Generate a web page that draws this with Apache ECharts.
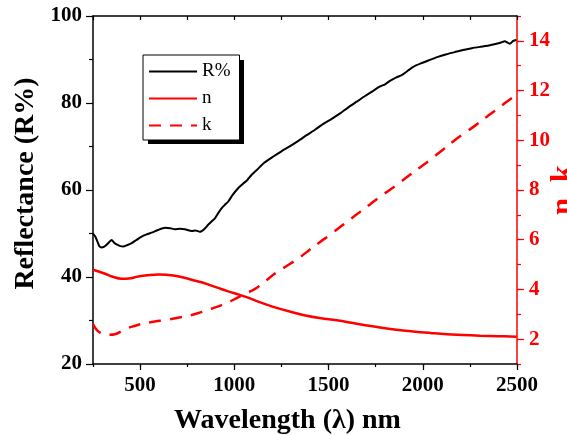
<!DOCTYPE html>
<html>
<head>
<meta charset="utf-8">
<title>Reflectance and optical constants</title>
<script src="https://cdn.jsdelivr.net/npm/echarts@6/dist/echarts.min.js"></script>
<style>
  html, body { margin: 0; padding: 0; background: #fff; }
  #chart { width: 567px; height: 435px; }
</style>
</head>
<body>
<div id="chart"></div>
<script>
// Reflectance spectrum R% (left axis)
const rWavelength = [250, 262, 272, 285, 295, 310, 322, 335, 349, 362, 375, 395, 410, 430, 455, 480, 508, 535, 561, 595,
  632, 660, 685, 710, 738, 760, 773, 795, 817, 840, 861, 880, 897, 915, 932, 950, 967, 990, 1020, 1045,
  1069, 1090, 1119, 1160, 1207, 1250, 1296, 1340, 1384, 1430, 1472, 1515, 1561, 1605, 1649, 1690, 1737, 1773, 1800, 1826,
  1860, 1888, 1920, 1949, 1990, 2038, 2080, 2126, 2170, 2214, 2260, 2303, 2350, 2391, 2415, 2435, 2450, 2462, 2480, 2497];
const rValues = [50.0, 49.3, 48.3, 47.0, 46.8, 47.0, 47.4, 48.0, 48.5, 47.9, 47.5, 47.1, 47.0, 47.3, 47.8, 48.5, 49.3, 49.8, 50.2, 50.8,
  51.3, 51.2, 51.0, 51.1, 51.0, 50.7, 50.6, 50.7, 50.4, 51.0, 52.0, 52.8, 53.5, 54.7, 55.8, 56.6, 57.3, 58.8, 60.4, 61.4,
  62.3, 63.4, 64.6, 66.3, 67.7, 68.9, 70.1, 71.3, 72.6, 73.9, 75.2, 76.3, 77.6, 79.0, 80.3, 81.5, 82.8, 83.8, 84.3, 85.1,
  85.9, 86.4, 87.4, 88.3, 89.1, 89.9, 90.6, 91.2, 91.7, 92.2, 92.6, 92.9, 93.2, 93.6, 93.9, 94.2, 93.9, 93.6, 94.3, 94.5];

// Refractive index n (right axis)
const nWavelength = [250, 280, 314, 350, 402, 440, 490, 540, 596, 640, 685, 730, 773, 820, 861, 910, 967, 1020, 1069, 1130,
  1207, 1290, 1384, 1460, 1543, 1650, 1773, 1860, 1949, 2040, 2126, 2210, 2303, 2400, 2497];
const nValues = [4.79, 4.72, 4.63, 4.52, 4.43, 4.44, 4.52, 4.57, 4.60, 4.59, 4.55, 4.48, 4.39, 4.30, 4.20, 4.07, 3.92, 3.80, 3.68, 3.50,
  3.30, 3.12, 2.94, 2.84, 2.76, 2.62, 2.47, 2.38, 2.31, 2.25, 2.20, 2.17, 2.14, 2.12, 2.10];

// Extinction coefficient k (right axis)
const kWavelength = [250, 265, 278, 305, 335, 367, 420, 470, 508, 570, 632, 700, 755, 810, 861, 915, 967, 1010, 1056, 1110,
  1165, 1225, 1290, 1349, 1400, 1455, 1510, 1561, 1615, 1667, 1720, 1773, 1826, 1880, 1932, 1985, 2038, 2100, 2161, 2220,
  2285, 2340, 2391, 2440, 2490];
const kValues = [2.61, 2.42, 2.31, 2.20, 2.18, 2.20, 2.40, 2.53, 2.61, 2.70, 2.77, 2.86, 2.94, 3.05, 3.18, 3.32, 3.48, 3.64, 3.82, 4.02,
  4.34, 4.69, 5.00, 5.30, 5.60, 5.91, 6.21, 6.51, 6.82, 7.12, 7.42, 7.73, 8.01, 8.31, 8.61, 8.91, 9.21, 9.58, 9.95, 10.28,
  10.63, 10.95, 11.23, 11.52, 11.80];

// Tick labels
const wavelengthTicks = [500, 1000, 1500, 2000, 2500];
const nkTicks = [2, 4, 6, 8, 10, 12, 14];

const zip = (xs, ys) => xs.map((x, i) => [x, ys[i]]);
const plain = (v) => String(v);

const FONT = '"Liberation Serif", "Times New Roman", serif';
const RED = '#ff0000';
const BLACK = '#000000';

const tickFont = { fontFamily: FONT, fontWeight: 'bold', fontSize: 21 };

const chart = echarts.init(document.getElementById('chart'), null, { renderer: 'canvas' });

chart.setOption({
  animation: false,
  backgroundColor: '#fff',
  grid: { left: 93, right: 50, top: 16, bottom: 71, containLabel: false, outerBoundsMode: 'none' },
  // solid drop shadow behind the legend box
  graphic: [{
    type: 'rect', z: 1, silent: true,
    shape: { x: 148, y: 60, width: 96, height: 84 },
    style: { fill: BLACK }
  }],
  legend: {
    orient: 'vertical',
    left: 143,
    top: 55,
    z: 5,
    padding: [7, 9, 5, 5],
    itemWidth: 48,
    itemHeight: 14,
    itemGap: 8,
    backgroundColor: '#fff',
    borderColor: BLACK,
    borderWidth: 1,
    borderRadius: 0,
    itemStyle: { opacity: 0 },
    textStyle: { fontFamily: FONT, fontSize: 19, color: BLACK },
    data: ['R%', 'n', 'k']
  },
  xAxis: [
    {
      // main wavelength axis with all ticks
      type: 'value', position: 'bottom', min: 250, max: 2500, interval: 250,
      axisLine: { show: true, lineStyle: { color: BLACK, width: 1.5 } },
      axisTick: { show: true, inside: false, length: 3, lineStyle: { color: BLACK, width: 1.2 } },
      axisLabel: { show: false },
      splitLine: { show: false }
    },
    {
      // labelled ticks and axis title
      type: 'value', position: 'bottom', min: 250, max: 2500,
      axisLine: { show: false },
      axisTick: { show: true, inside: false, length: 6, customValues: wavelengthTicks, lineStyle: { color: BLACK, width: 1.2 } },
      axisLabel: { show: true, customValues: wavelengthTicks, formatter: plain, margin: 11, color: BLACK, ...tickFont },
      splitLine: { show: false },
      name: 'Wavelength (\u03bb) nm',
      nameLocation: 'middle',
      nameGap: 43,
      nameTextStyle: { fontFamily: FONT, fontWeight: 'bold', fontSize: 28, color: BLACK, padding: [0, 35, 0, 0] }
    },
    {
      // top frame
      type: 'value', position: 'top', min: 250, max: 2500, interval: 250,
      axisLine: { show: true, lineStyle: { color: BLACK, width: 1.5 } },
      axisTick: { show: true, inside: true, length: 4, lineStyle: { color: BLACK, width: 1.2 } },
      axisLabel: { show: false },
      splitLine: { show: false }
    }
  ],
  yAxis: [
    {
      type: 'value', position: 'left', min: 20, max: 100, interval: 20,
      axisLine: { show: true, lineStyle: { color: BLACK, width: 1.5 } },
      axisTick: { show: true, inside: false, length: 7, lineStyle: { color: BLACK, width: 1.2 } },
      minorTick: { show: true, splitNumber: 2, length: 4, lineStyle: { color: BLACK, width: 1.2 } },
      axisLabel: { margin: 11, formatter: plain, color: BLACK, ...tickFont },
      splitLine: { show: false },
      name: 'Reflectance (R%)',
      nameLocation: 'middle',
      nameRotate: 90,
      nameGap: 53,
      nameTextStyle: { fontFamily: FONT, fontWeight: 'bold', fontSize: 28, color: BLACK, padding: [0, 0, 0, 13] }
    },
    {
      // n, k scale with every unit tick
      type: 'value', position: 'right', min: 1, max: 15, interval: 1,
      axisLine: { show: true, lineStyle: { color: RED, width: 1.5 } },
      axisTick: { show: true, inside: false, length: 4, lineStyle: { color: RED, width: 1.2 } },
      axisLabel: { show: false },
      splitLine: { show: false }
    },
    {
      // labelled even ticks and axis title
      type: 'value', position: 'right', min: 1, max: 15,
      axisLine: { show: false },
      axisTick: { show: true, inside: false, length: 7, customValues: nkTicks, lineStyle: { color: RED, width: 1.2 } },
      axisLabel: { show: true, customValues: nkTicks, formatter: plain, margin: 12, color: RED, ...tickFont },
      splitLine: { show: false },
      name: 'n, k',
      nameLocation: 'middle',
      nameRotate: 90,
      nameGap: 31,
      nameMoveOverlap: false,
      nameTextStyle: { fontFamily: FONT, fontWeight: 'bold', fontSize: 31, color: RED }
    }
  ],
  series: [
    {
      name: 'R%', type: 'line', xAxisIndex: 0, yAxisIndex: 0,
      data: zip(rWavelength, rValues),
      symbol: 'none', smooth: 0.2,
      lineStyle: { color: BLACK, width: 2 },
      itemStyle: { color: BLACK },
      z: 3
    },
    {
      name: 'n', type: 'line', xAxisIndex: 0, yAxisIndex: 1,
      data: zip(nWavelength, nValues),
      symbol: 'none', smooth: 0.4,
      lineStyle: { color: RED, width: 2.5 },
      itemStyle: { color: RED },
      z: 2
    },
    {
      name: 'k', type: 'line', xAxisIndex: 0, yAxisIndex: 1,
      data: zip(kWavelength, kValues),
      symbol: 'none', smooth: 0.4,
      lineStyle: { color: RED, width: 2.5, type: [12, 9] },
      itemStyle: { color: RED },
      z: 2
    }
  ]
});
</script>
</body>
</html>
